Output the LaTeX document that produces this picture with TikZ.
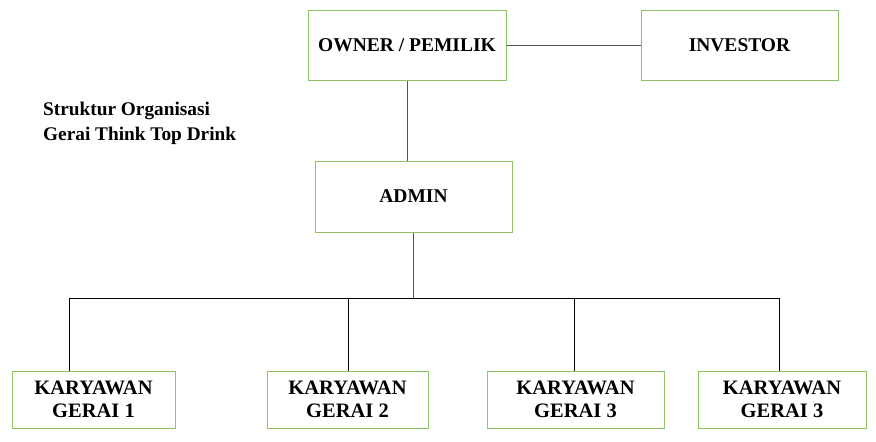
\documentclass[tikz,border=0pt]{standalone}
\usepackage{fontspec}
\setmainfont{Liberation Serif}
\usetikzlibrary{positioning}
\definecolor{boxgreen}{RGB}{140,195,100}
\definecolor{linegray}{RGB}{85,85,85}

\begin{document}
\begin{tikzpicture}[x=1pt,y=-1pt,
  orgbox/.style={draw=boxgreen, line width=1pt, fill=white, align=center, inner sep=0pt,
    font=\bfseries\fontsize{19.5}{23}\selectfont},
  staffbox/.style={orgbox, minimum height=57pt, font=\bfseries\fontsize{20.5}{23}\selectfont},
  link/.style={draw=linegray, line width=1pt},
  bus/.style={draw=black, line width=1pt}]
\useasboundingbox (0,0) rectangle (876,442);
\node[orgbox, minimum width=198pt, minimum height=70pt] (owner) at (407,45) {OWNER / PEMILIK};
\node[orgbox, minimum width=197pt, minimum height=70pt] (investor) at (739.5,45) {INVESTOR};
\node[orgbox, minimum width=197pt, minimum height=71pt] (admin) at (413.5,196.5) {ADMIN};
\node[staffbox, minimum width=163pt] (gerai1) at (93.5,399.5) {KARYAWAN\\GERAI 1};
\node[staffbox, minimum width=161pt] (gerai2) at (347.5,399.5) {KARYAWAN\\GERAI 2};
\node[staffbox, minimum width=177pt] (gerai3) at (575.5,399.5) {KARYAWAN\\GERAI 3};
\node[staffbox, minimum width=168pt] (gerai4) at (782,399.5) {KARYAWAN\\GERAI 3};
\node[anchor=west, align=left, inner sep=0pt, font=\bfseries\fontsize{19.3}{25}\selectfont] (title) at (43,123.5)
  {Struktur Organisasi\\Gerai Think Top Drink};
% connectors
\coordinate (drop1) at (69,298);
\coordinate (drop2) at (348,298);
\coordinate (drop3) at (574,298);
\coordinate (drop4) at (779,298);
\draw[link] (owner.east) -- (investor.west);
\draw[link] (owner.south) -- (owner.south |- admin.north);
\draw[link] (admin.south) -- (admin.south |- drop1);
\draw[bus] (drop1) -- (drop4);
\draw[bus] (drop1) -- (drop1 |- gerai1.north);
\draw[bus] (drop2) -- (drop2 |- gerai2.north);
\draw[bus] (drop3) -- (drop3 |- gerai3.north);
\draw[bus] (drop4) -- (drop4 |- gerai4.north);
\end{tikzpicture}
\end{document}
